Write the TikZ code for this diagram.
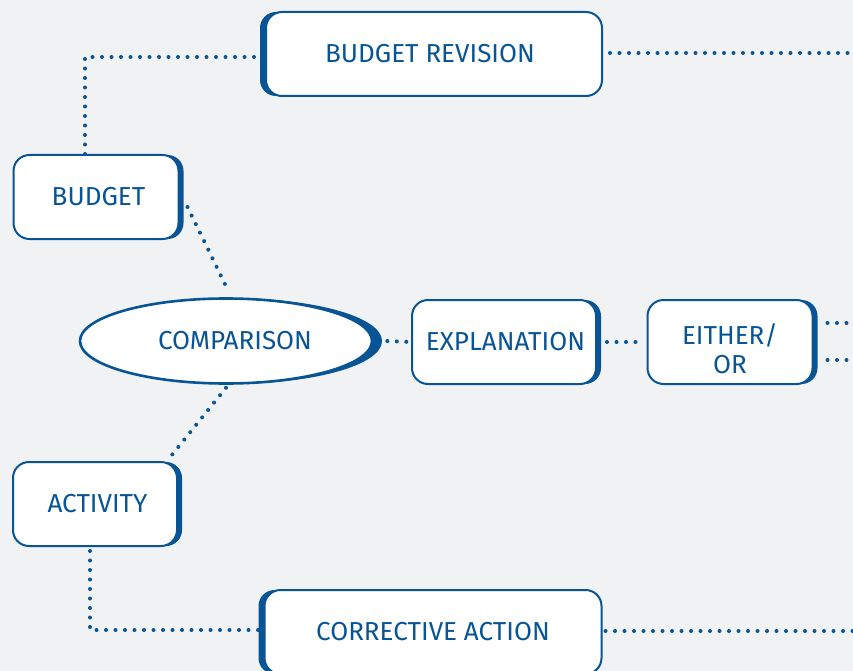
\documentclass[tikz,border=0pt]{standalone}
\usepackage{fontspec}
\setmainfont{Fira Sans}
\usetikzlibrary{positioning,shadows,shapes.geometric}
\definecolor{planblue}{RGB}{8,84,148}
\definecolor{planbg}{RGB}{240,242,244}
\tikzset{
plan/.style={
    x=1pt,
    y=-1pt,
    font=\fontsize{26}{29}\selectfont,
    text=planblue
},
stage/.style={
    draw=planblue,
    line width=2pt,
    fill=white,
    rounded corners=16pt,
    minimum height=84pt,
    inner sep=0pt,
    align=center
},
rightedge/.style={
    drop shadow={shadow xshift=5pt,shadow yshift=0pt,opacity=1,fill=planblue}
},
leftedge/.style={
    drop shadow={shadow xshift=-6pt,shadow yshift=0pt,opacity=1,fill=planblue}
},
hub/.style={
    ellipse,
    draw=planblue,
    line width=2.6pt,
    fill=white,
    minimum width=292pt,
    minimum height=85pt,
    inner sep=0pt,
    drop shadow={shadow xshift=10pt,shadow yshift=0pt,opacity=1,fill=planblue}
},
dots/.style={
    draw=planblue,
    line width=4pt,
    line cap=round,
    dash pattern=on 0pt off 9.5pt
}}

\begin{document}
\begin{tikzpicture}[plan]
\fill[planbg] (0,0) rectangle (853,671);
\useasboundingbox (0,0) rectangle (853,671);

\node[stage, leftedge, minimum width=336pt]    (revision)    at (434,54)    {\hspace*{-8pt}BUDGET REVISION};
\node[stage, rightedge, minimum width=165pt]    (budget)    at (96,197)    {\hspace*{5pt}BUDGET};
\node[hub]    (comparison)    at (226,341)    {\hspace*{18pt}COMPARISON};
\node[stage, rightedge, minimum width=184pt]    (explanation)    at (504,342)    {\hspace*{3pt}EXPLANATION};
\node[stage, rightedge, minimum width=165pt]    (either)    at (730,342)    {\rule{0pt}{34pt}EITHER/\\OR};
\node[stage, rightedge, minimum width=164pt]    (activity)    at (95,504)    {\hspace*{5pt}ACTIVITY};
\node[stage, leftedge, minimum width=337pt]    (corrective)    at (433,632)    {CORRECTIVE ACTION};

\coordinate    (revisionout)    at (853,53);
\coordinate    (eitherup)    at (853,323);
\coordinate    (eitherdown)    at (853,360);
\coordinate    (correctiveout)    at (853,631);

\draw[dots]    ([xshift=-11pt]budget.north) |- ([yshift=-3pt]revision.west);
\draw[dots]    ([xshift=7pt]revision.east |- revisionout) -- (revisionout);
\draw[dots]    ([shift={(8pt,-10pt)}]budget.east) -- ([yshift=11pt]comparison.north);
\draw[dots]    ([xshift=14pt]comparison.east) -- (explanation.west);
\draw[dots]    ([xshift=10pt]explanation.east) -- ([xshift=-5pt]either.west);
\draw[dots]    ([xshift=14pt]either.east |- eitherup) -- (eitherup);
\draw[dots]    ([xshift=14pt]either.east |- eitherdown) -- (eitherdown);
\draw[dots]    ([yshift=-3pt]comparison.south) -- ([shift={(-7pt,5pt)}]activity.north east);
\draw[dots]    ([shift={(-5pt,-4pt)}]activity.south) |- ([yshift=2pt]corrective.west);
\draw[dots]    ([xshift=3pt]corrective.east |- correctiveout) -- (correctiveout);
\end{tikzpicture}
\end{document}
